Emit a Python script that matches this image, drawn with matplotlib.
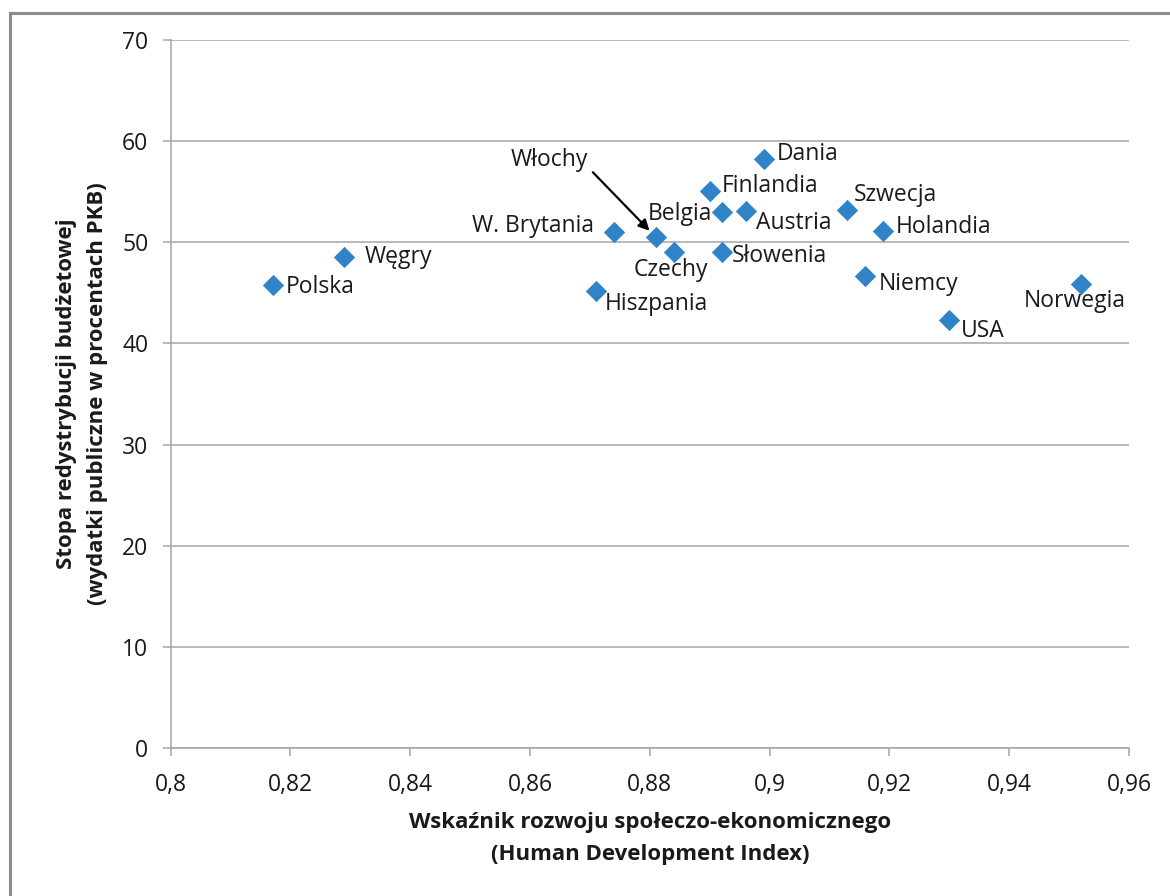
import matplotlib
matplotlib.use("Agg")
import matplotlib.pyplot as plt
from matplotlib.lines import Line2D
from matplotlib.ticker import FuncFormatter, MultipleLocator

countries = ["Polska", "Węgry", "Hiszpania", "W. Brytania", "Włochy", "Czechy",
             "Finlandia", "Belgia", "Słowenia", "Austria", "Dania", "Szwecja",
             "Holandia", "Niemcy", "USA", "Norwegia"]
hdi = [0.817, 0.829, 0.871, 0.874, 0.881, 0.884,
       0.890, 0.892, 0.892, 0.896, 0.899, 0.913,
       0.919, 0.916, 0.930, 0.952]
spending = [45.8, 48.5, 45.2, 51.0, 50.5, 49.0,
            55.1, 53.0, 49.0, 53.1, 58.2, 53.2,
            51.1, 46.7, 42.3, 45.9]

# label placement: (dx px, dy px, ha) relative to marker, text baseline
label_pos = {
    "Polska": (13, -8, "left"),
    "Węgry": (20, -6, "left"),
    "Hiszpania": (9, -19, "left"),
    "W. Brytania": (-20, 0, "right"),
    "Czechy": (-3, -24, "center"),
    "Finlandia": (12, -1, "left"),
    "Belgia": (-10, -8, "right"),
    "Słowenia": (10, -10, "left"),
    "Austria": (10, -18, "left"),
    "Dania": (13, -1, "left"),
    "Szwecja": (6, 9, "left"),
    "Holandia": (12, -2, "left"),
    "Niemcy": (13, -14, "left"),
    "USA": (12, -17, "left"),
    "Norwegia": (-6, -23, "center"),
}

plt.rcParams["font.family"] = ["Open Sans", "DejaVu Sans"]

fig = plt.figure(figsize=(11.7, 8.96), dpi=100)
ax = fig.add_axes([170.7 / 1170, 1 - 748 / 896, (1129 - 170.7) / 1170, (748 - 40) / 896])

grid_c = "#a6a6a6"
txt_c = "#1a1a1a"
fs = 16.5
ax.set_xlim(0.8, 0.96)
ax.set_ylim(0, 70)
ax.xaxis.set_major_locator(MultipleLocator(0.02))
ax.yaxis.set_major_locator(MultipleLocator(10))
ax.xaxis.set_major_formatter(FuncFormatter(lambda v, p: f"{round(v, 2):g}".replace(".", ",")))
ax.grid(axis="y", color=grid_c, linewidth=1.1)
ax.set_axisbelow(True)
for s in ["top", "right"]:
    ax.spines[s].set_visible(False)
for s in ["left", "bottom"]:
    ax.spines[s].set_color(grid_c)
    ax.spines[s].set_linewidth(1.1)
ax.tick_params(axis="both", colors=grid_c, length=6, width=1.1, labelsize=fs,
               labelcolor=txt_c, direction="out")
ax.tick_params(axis="y", pad=10)
ax.tick_params(axis="x", pad=12)

ax.scatter(hdi, spending, marker="D", s=118, color="#2f83c6", linewidths=0, zorder=3)

for name, x, y in zip(countries, hdi, spending):
    if name in label_pos:
        dx, dy, ha = label_pos[name]
        ax.annotate(name, (x, y), xytext=(dx, dy), textcoords="offset pixels",
                    ha=ha, va="baseline", fontsize=fs, color=txt_c)

# Włochy has its label off to the side with an arrow
i = countries.index("Włochy")
wx, wy = hdi[i], spending[i]
ax.annotate("Włochy", (wx, wy), xytext=(-106, 71), textcoords="offset pixels",
            ha="center", va="baseline", fontsize=fs, color=txt_c)
ax.annotate("", (wx, wy), xytext=(-63, 65), textcoords="offset pixels",
            arrowprops=dict(arrowstyle="-|>", color="black", lw=1.6,
                            mutation_scale=16, shrinkA=0, shrinkB=6.5))

ax.set_xlabel("Wskaźnik rozwoju społeczo-ekonomicznego\n(Human Development Index)",
              fontsize=16, fontweight="bold", linespacing=1.7, labelpad=11, color=txt_c)
ax.set_ylabel("Stopa redystrybucji budżetowej\n(wydatki publiczne w procentach PKB)",
              fontsize=16, fontweight="bold", linespacing=1.65, labelpad=10, color=txt_c)

# outer chart frame
fig.add_artist(Line2D([10 / 1170, 10 / 1170], [0, 1 - 13 / 896], transform=fig.transFigure,
                      color="#8c8c8c", linewidth=2.2))
fig.add_artist(Line2D([10 / 1170, 1], [1 - 13 / 896, 1 - 13 / 896], transform=fig.transFigure,
                      color="#8c8c8c", linewidth=2.2))

fig.savefig("out.png", dpi=100)
